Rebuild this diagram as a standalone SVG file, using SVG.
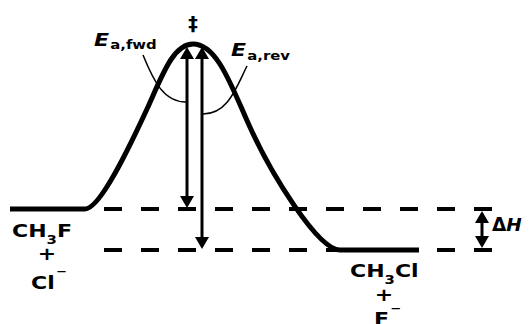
<svg xmlns="http://www.w3.org/2000/svg" width="529" height="324" viewBox="0 0 529 324">
<style>
  text { font-family: "DejaVu Sans", Verdana, sans-serif; font-weight: bold; fill: #000; font-size: 18.5px; }
  .it { font-style: italic; }
  .sub { font-size: 12.5px; }
  .sup { font-size: 11px; }
  .curve { fill: none; stroke: #000; stroke-width: 5; stroke-linejoin: round; }
  .dash { fill: none; stroke: #000; stroke-width: 4; stroke-dasharray: 18 19; }
  .arr { fill: none; stroke: #000; stroke-width: 3; marker-start: url(#ah); marker-end: url(#ah); }
  .lead { fill: none; stroke: #000; stroke-width: 1.5; }
</style>
<defs>
  <marker id="ah" markerUnits="userSpaceOnUse" markerWidth="12" markerHeight="14" refX="2" refY="7" orient="auto-start-reverse">
    <path d="M0,0 L12,7 L0,14 z" fill="#000"/>
  </marker>
</defs>
<rect width="529" height="324" fill="#fff"/>
<g id="levels">
  <line class="dash" x1="104" y1="209" x2="492" y2="209"/>
  <line class="dash" x1="104" y1="250" x2="492" y2="250"/>
</g>
<g id="energy-curve">
  <path class="curve" d="M10,209 L85,209 C100,209 129,148 147,109 C162,76 173,44 193,44 C217,44 231,85 249,125 C271,174 318,250 340,250 L419,250"/>
</g>
<g id="connectors">
  <line class="arr" x1="187" y1="57" x2="187" y2="198"/>
  <line class="arr" x1="202" y1="57" x2="202" y2="239"/>
  <line class="arr" x1="482" y1="221" x2="482" y2="238"/>
  <path class="lead" d="M143,55 C154,82 164,102 186,102"/>
  <path class="lead" d="M247,66 C236,88 228,114 203,114"/>
</g>
<g id="ts-label">
  <text x="193" y="30" style="font-size:19px" text-anchor="middle">‡</text>
</g>
<g id="ea-fwd-label">
  <text transform="translate(94,46) scale(1.19,1)"><tspan class="it">E</tspan><tspan class="sub" dx="1" y="3">a,fwd</tspan></text>
</g>
<g id="ea-rev-label">
  <text transform="translate(231,56) scale(1.19,1)"><tspan class="it">E</tspan><tspan class="sub" dx="1" y="4">a,rev</tspan></text>
</g>
<g id="dh-label">
  <text transform="translate(492,231) scale(1.0,1)">Δ<tspan class="it">H</tspan></text>
</g>
<g id="reactants">
  <text transform="translate(12,237) scale(1.19,1)">CH<tspan class="sub" y="7">3</tspan><tspan y="0">F</tspan></text>
  <text transform="translate(47,260) scale(1.19,1)" text-anchor="middle">+</text>
  <text transform="translate(31,289) scale(1.19,1)">Cl<tspan class="sup" dx="1" y="-14">−</tspan></text>
</g>
<g id="products">
  <text transform="translate(350,277) scale(1.19,1)">CH<tspan class="sub" y="7">3</tspan><tspan y="0">Cl</tspan></text>
  <text transform="translate(384,301) scale(1.19,1)" text-anchor="middle">+</text>
  <text transform="translate(374,325) scale(1.19,1)">F<tspan class="sup" dx="1" y="-13">−</tspan></text>
</g>
</svg>
